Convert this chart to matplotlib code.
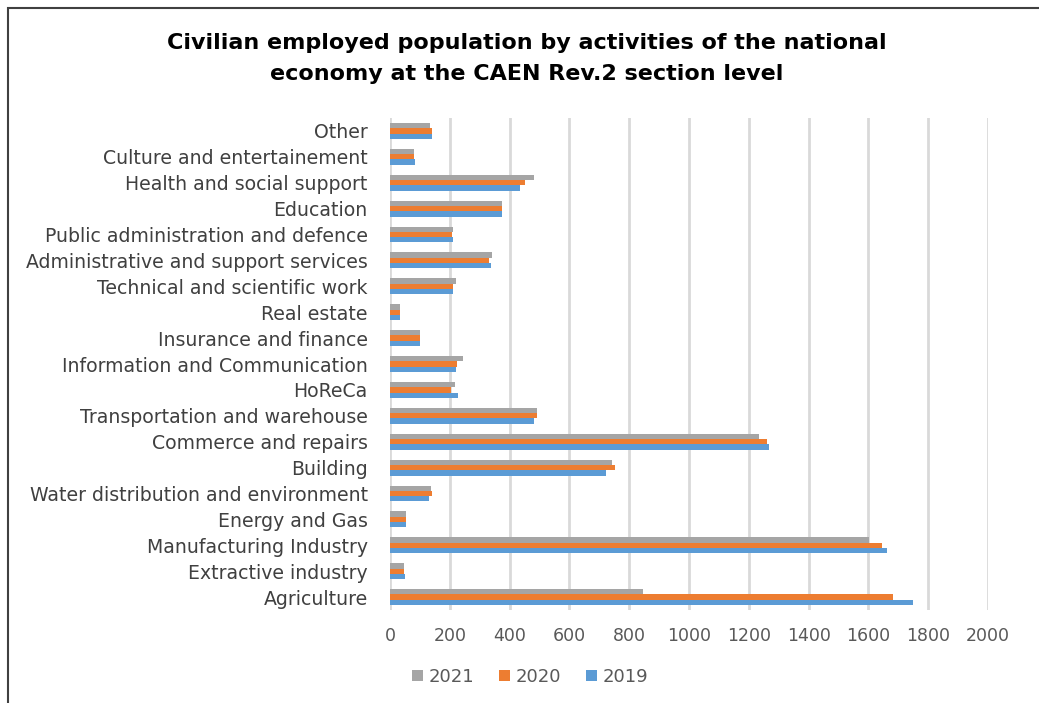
import numpy as np
import matplotlib.pyplot as plt
from matplotlib.patches import Rectangle

# Data (thousand persons), bottom to top as drawn
CATEGORIES = [
    'Agriculture', 'Extractive industry', 'Manufacturing Industry', 'Energy and Gas',
    'Water distribution and environment', 'Building', 'Commerce and repairs',
    'Transportation and warehouse', 'HoReCa', 'Information and Communication',
    'Insurance and finance', 'Real estate', 'Technical and scientific work',
    'Administrative and support services', 'Public administration and defence',
    'Education', 'Health and social support', 'Culture and entertainement', 'Other',
]
VALUES_2019 = [1749, 51, 1662, 55, 130, 722, 1269, 482, 226, 221, 101, 34, 212, 337, 212, 375, 436, 84, 142]
VALUES_2020 = [1682, 47, 1645, 55, 140, 751, 1260, 493, 204, 225, 101, 34, 212, 332, 207, 375, 452, 80, 139]
VALUES_2021 = [846, 47, 1603, 55, 137, 743, 1235, 493, 216, 245, 101, 34, 221, 341, 212, 375, 482, 80, 134]
X_TICKS = [0, 200, 400, 600, 800, 1000, 1200, 1400, 1600, 1800, 2000]

COLORS = {'2019': '#5B9BD5', '2020': '#ED7D31', '2021': '#A5A5A5'}

plt.rcParams['font.family'] = ['DejaVu Sans']

fig = plt.figure(figsize=(10.39, 7.03), dpi=100)
W, H = 1039, 703
ax = fig.add_axes([390 / W, 1 - 610 / H, (988 - 390) / W, (610 - 118) / H])

y = np.arange(len(CATEGORIES))
bh = 0.205
ax.barh(y - bh, VALUES_2019, height=bh, color=COLORS['2019'], label='2019', zorder=3)
ax.barh(y, VALUES_2020, height=bh, color=COLORS['2020'], label='2020', zorder=3)
ax.barh(y + bh, VALUES_2021, height=bh, color=COLORS['2021'], label='2021', zorder=3)

ax.set_xlim(0, 2000)
ax.set_ylim(-0.5, len(CATEGORIES) - 0.5)
ax.set_xticks(X_TICKS)
ax.set_xticklabels([str(t) for t in X_TICKS], fontsize=12.5, color='#595959')
ax.set_yticks(y)
ax.set_yticklabels(CATEGORIES, fontsize=13.6, color='#404040')
ax.tick_params(axis='both', length=0)
ax.tick_params(axis='y', pad=16)
ax.tick_params(axis='x', pad=12)
ax.grid(axis='x', color='#D9D9D9', linewidth=2, zorder=0)
for s in ax.spines.values():
    s.set_visible(False)

fig.suptitle('Civilian employed population by activities of the national\neconomy at the CAEN Rev.2 section level',
             x=527 / W, y=1 - 33 / H, fontsize=16, fontweight='bold', color='black', linespacing=1.7)

handles, labels = ax.get_legend_handles_labels()
fig.legend(handles[::-1], labels[::-1], loc='center', bbox_to_anchor=(530 / W, 1 - 677 / H),
           ncol=3, frameon=False, fontsize=13, handlelength=0.6, handleheight=0.6,
           handletextpad=0.3, columnspacing=1.4, labelcolor='#595959')

# outer frame of the pasted chart
fig.add_artist(Rectangle((8 / W, -0.1), 1.2, 1 - 8 / H + 0.1, transform=fig.transFigure,
                         fill=False, edgecolor='#404040', linewidth=1.5))

fig.savefig('out.png', dpi=100)
